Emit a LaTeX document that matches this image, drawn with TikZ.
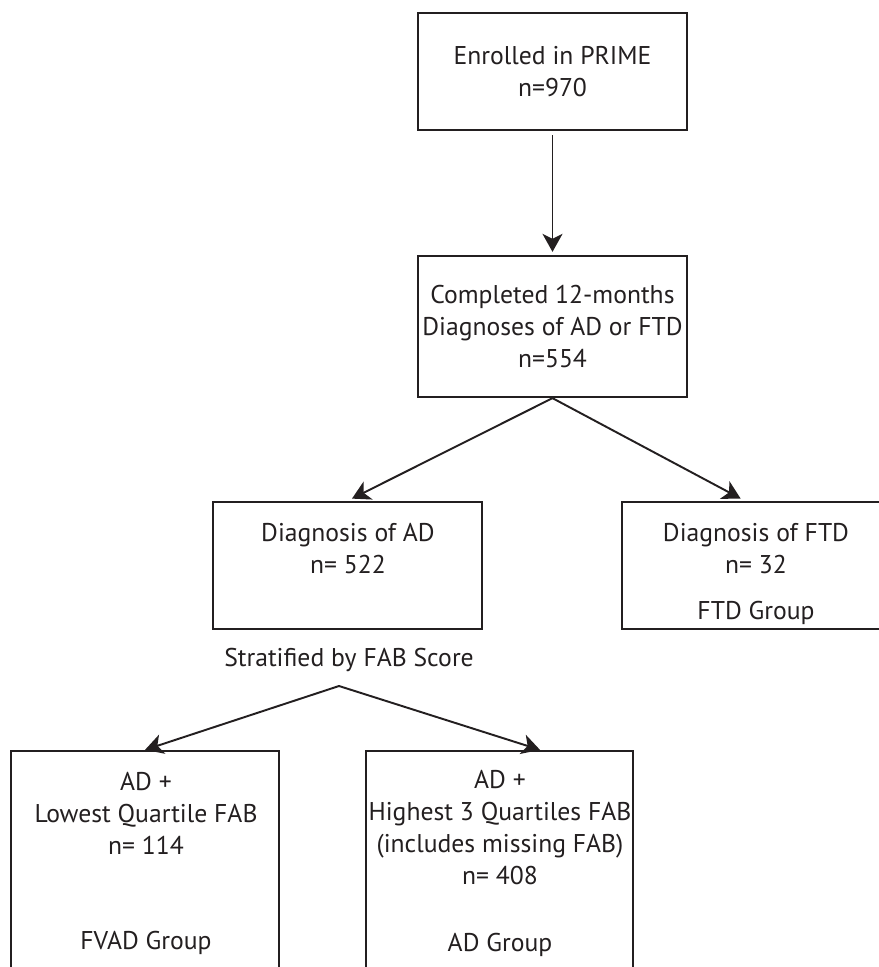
\documentclass[tikz,border=0pt]{standalone}
\usepackage{fontspec}
\setmainfont{PT Sans}
\usetikzlibrary{positioning, arrows.meta}
\definecolor{ink}{HTML}{231F20}

\begin{document}
\begin{tikzpicture}[
        box/.style={draw=ink, line width=1.3pt, text=ink, align=center, inner sep=0pt},
        lbl/.style={text=ink, align=center, inner sep=0pt},
        arr/.style={draw=ink, line width=1.1pt, -{Stealth[length=0.36cm,width=0.4cm,inset=0.1cm]}},
        every node/.style={font=\fontsize{14.6}{18.2}\selectfont}
    ]
        \useasboundingbox (0,0) rectangle (17.58,-19.34);
        \clip (0,0) rectangle (17.58,-19.34);
        %box iniziali
        \node[box, minimum width=5.38cm, minimum height=2.34cm] (prime) at (11.05,-1.43) {Enrolled in PRIME\\n=970};
        \node[box, minimum width=5.38cm, minimum height=2.82cm] (completed) at (11.05,-6.53) {Completed 12-months\\Diagnoses of AD or FTD\\n=554};
        %box diagnosi
        \node[box, minimum width=5.38cm, minimum height=2.54cm] (diagAD) at (6.95,-11.31) {};
        \node[box, minimum width=5.36cm, minimum height=2.54cm] (diagFTD) at (15.12,-11.31) {};
        \node[lbl] (adtext) at (6.96,-10.98) {Diagnosis of AD\\n= 522};
        \node[lbl] (ftdtext) at (15.12,-10.98) {Diagnosis of FTD\\n= 32};
        \node[lbl] (ftdgroup) at (15.12,-12.26) {FTD Group};
        %stratificazione
        \node[lbl] (strat) at (6.98,-13.2) {Stratified by FAB Score};
        \coordinate (fabsplit) at (6.78,-13.72);
        %box finali
        \node[box, minimum width=5.36cm, minimum height=4.78cm] (lowFAB) at (2.9,-17.41) {};
        \node[box, minimum width=5.34cm, minimum height=4.78cm] (highFAB) at (9.99,-17.41) {};
        \node[lbl] (lowtext) at (2.92,-16.27) {AD +\\Lowest Quartile FAB\\n= 114};
        \node[lbl] (lowgroup) at (2.92,-18.86) {FVAD Group};
        \node[lbl] (hightext) at (10,-16.55) {AD +\\Highest 3 Quartiles FAB\\(includes missing FAB)\\n= 408};
        \node[lbl] (highgroup) at (10,-18.9) {AD Group};
        %frecce
        \draw[arr, shorten <=0.08cm, shorten >=0.06cm] (prime.south) -- (completed.north);
        \draw[arr, shorten >=0.1cm] (completed.south) -- (diagAD.north);
        \draw[arr, shorten >=0.1cm] (completed.south) -- ([xshift=-0.22cm]diagFTD.north);
        \draw[arr] (fabsplit) -- (lowFAB.north);
        \draw[arr] (fabsplit) -- ([xshift=0.81cm]highFAB.north);
\end{tikzpicture}
\end{document}
